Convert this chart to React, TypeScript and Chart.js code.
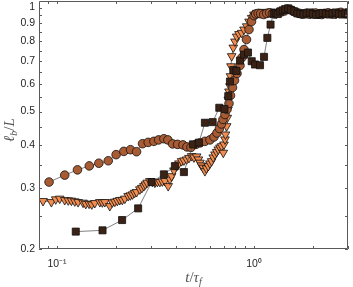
import { useEffect, useRef } from 'react';
import { Chart, registerables } from 'chart.js';

Chart.register(...registerables);

// ---- Data ----
const circleX = [
  0.0911, 0.1094, 0.127, 0.1458, 0.163, 0.182, 0.1995, 0.2183, 0.236, 0.2533,
  0.2717, 0.2902, 0.3101, 0.3278, 0.3487, 0.3654, 0.386, 0.4094, 0.4356, 0.4565,
  0.4784, 0.507, 0.5314, 0.5634, 0.5973, 0.6261, 0.6484, 0.6678, 0.6836, 0.6958,
  0.7122, 0.7291, 0.7464, 0.7596, 0.7776, 0.796, 0.8197, 0.8488, 0.8688, 0.8897,
  0.916, 0.9432, 0.9712, 1.0,
  1.02, 1.05, 1.08, 1.12, 1.16, 1.2, 1.24, 1.28, 1.33, 1.38, 1.43, 1.48, 1.53, 1.59,
  1.65, 1.71, 1.77, 1.84, 1.91, 1.98, 2.05, 2.13, 2.21, 2.29, 2.38, 2.47, 2.56, 2.66,
  2.76, 2.87, 2.97,
];
const circleY = [
  0.3125, 0.3273, 0.339, 0.348, 0.3543, 0.3602, 0.3752, 0.3834, 0.3878, 0.3826,
  0.4036, 0.4072, 0.41, 0.4139, 0.4172, 0.4139, 0.4031, 0.4018, 0.4004, 0.395,
  0.3937, 0.4018, 0.4058, 0.41, 0.4139, 0.4222, 0.4336, 0.4467, 0.4603, 0.4745,
  0.4904, 0.507, 0.5279, 0.5566, 0.5871, 0.6152, 0.6446, 0.6796, 0.7168, 0.756,
  0.8081, 0.8639, 0.911, 0.948,
  0.958, 0.962, 0.96, 0.955, 0.962, 0.966, 0.96, 0.958, 0.968, 0.972, 0.978, 0.99, 0.985, 0.975,
  0.968, 0.962, 0.958, 0.963, 0.957, 0.961, 0.965, 0.958, 0.955, 0.962, 0.966, 0.96, 0.957, 0.963,
  0.969, 0.962, 0.958,
];

const triangleX = [
  0.0849, 0.0936, 0.0985, 0.1032, 0.1094, 0.114, 0.1183, 0.123, 0.1279, 0.1356,
  0.1399, 0.1454, 0.1501, 0.1555, 0.1649, 0.1698, 0.1748, 0.1853, 0.1908, 0.1964,
  0.2023, 0.2083, 0.2145, 0.2209, 0.2296, 0.2356, 0.2418, 0.2475, 0.2534, 0.2633,
  0.2696, 0.276, 0.2809, 0.2868, 0.296, 0.3048, 0.3139, 0.3232, 0.3327, 0.3426,
  0.3528, 0.3667, 0.3741, 0.3816, 0.3921, 0.4046, 0.4156, 0.429, 0.4407, 0.4549,
  0.4673, 0.4824, 0.4955, 0.5114, 0.5222, 0.5314, 0.5408, 0.5523, 0.5634, 0.5734,
  0.5857, 0.5973, 0.6093, 0.6209, 0.6334, 0.6461, 0.6585, 0.6717, 0.6852, 0.6982,
  0.704, 0.7122, 0.7164, 0.7265, 0.7317, 0.7377, 0.7402, 0.7464, 0.7551, 0.7596,
  0.7641, 0.7703, 0.7849, 0.8006, 0.8166, 0.8389, 0.8659, 0.8897, 0.9182, 0.9432,
  0.9734, 1.0, 1.032,
  1.065, 1.1, 1.14, 1.18, 1.22, 1.26, 1.3, 1.35, 1.4, 1.45, 1.5, 1.56, 1.62, 1.68,
  1.74, 1.8, 1.87, 1.94, 2.01, 2.09, 2.17, 2.25, 2.34, 2.43, 2.52, 2.61, 2.71, 2.81, 2.92,
];
const triangleY = [
  0.2754, 0.2735, 0.2785, 0.2798, 0.2772, 0.2766, 0.2761, 0.2748, 0.2735, 0.2724,
  0.2702, 0.2706, 0.2693, 0.2717, 0.2735, 0.273, 0.2735, 0.2663, 0.273, 0.2742,
  0.2757, 0.2772, 0.2776, 0.2798, 0.2847, 0.286, 0.2879, 0.2908, 0.2924, 0.2977,
  0.3006, 0.3042, 0.3077, 0.3112, 0.3146, 0.3129, 0.3112, 0.3129, 0.3129, 0.3139,
  0.3146, 0.3042, 0.3181, 0.3251, 0.3377, 0.3476, 0.3539, 0.3593, 0.361, 0.3634,
  0.3671, 0.3715, 0.3683, 0.3708, 0.3634, 0.3556, 0.3492, 0.3439, 0.3362, 0.3423,
  0.3476, 0.3539, 0.3593, 0.3683, 0.3757, 0.382, 0.3884, 0.3935, 0.397, 0.38,
  0.4015, 0.4153, 0.4292, 0.4536, 0.4797, 0.507, 0.5418, 0.5716, 0.5921, 0.6329,
  0.6763, 0.7234, 0.766, 0.7975, 0.8244, 0.8384, 0.845, 0.8639, 0.8829, 0.911,
  0.9337, 0.9545, 0.9654,
  0.968, 0.972, 0.965, 0.97, 0.974, 0.967, 0.962, 0.97, 0.978, 0.985, 0.992, 0.98, 0.972, 0.966,
  0.962, 0.968, 0.964, 0.96, 0.966, 0.97, 0.963, 0.96, 0.966, 0.971, 0.964, 0.96, 0.967, 0.972, 0.966,
];

const squareX = [
  0.1245, 0.1702, 0.214, 0.2581, 0.302, 0.3487, 0.3967, 0.4407, 0.4898, 0.5252,
  0.5634, 0.6166, 0.6664, 0.7079, 0.7402, 0.7551, 0.7849, 0.8146, 0.8488, 0.8897,
  0.9322, 0.9734, 1.0118, 1.0727, 1.124, 1.1686, 1.2131, 1.2564,
  1.29, 1.32, 1.36, 1.4, 1.44, 1.49, 1.54, 1.6, 1.66, 1.72, 1.78, 1.85, 1.92, 1.99,
  2.07, 2.15, 2.23, 2.32, 2.41, 2.5, 2.6, 2.7, 2.8, 2.91, 3.0,
];
const squareY = [
  0.2246, 0.2265, 0.2426, 0.2622, 0.3125, 0.329, 0.3476, 0.334, 0.4018, 0.4063,
  0.4641, 0.466, 0.5128, 0.5087, 0.554, 0.6109, 0.6598, 0.6554, 0.7026, 0.7311,
  0.741, 0.6994, 0.6843, 0.681, 0.7201, 0.8172, 0.8929, 0.9607,
  0.965, 0.958, 0.975, 0.982, 0.99, 0.995, 0.985, 0.975, 0.962, 0.958, 0.955, 0.962, 0.968, 0.958,
  0.952, 0.958, 0.965, 0.96, 0.955, 0.962, 0.968, 0.96, 0.955, 0.962, 0.958,
];

const xTickValues = [0.09, 0.1, 0.2, 0.3, 0.4, 0.5, 0.6, 0.7, 0.8, 0.9, 1, 2, 3];
const xLabelValues = [0.1, 1];
const xLabelTexts = ['10\u207B\u00B9', '10\u2070'];
const yTickValues = [0.2, 0.25, 0.3, 0.35, 0.4, 0.45, 0.5, 0.55, 0.6, 0.65, 0.7, 0.75, 0.8, 0.85, 0.9, 0.95, 1];
const yLabelValues = [0.2, 0.3, 0.4, 0.5, 0.6, 0.7, 0.8, 0.9, 1];
const yLabelTexts = ['0.2', '0.3', '0.4', '0.5', '0.6', '0.7', '0.8', '0.9', '1'];

const toPoints = (xs: number[], ys: number[]) => xs.map((x, i) => ({ x, y: ys[i] }));

const boxPlugin = {
  id: 'matlabBox',
  afterDraw(chart: any) {
    const { ctx, chartArea: a, scales } = chart;
    const xs = scales.x;
    const ys = scales.y;
    ctx.save();
    ctx.strokeStyle = '#5a5a5a';
    ctx.lineWidth = 1;
    ctx.beginPath();
    ctx.rect(Math.round(a.left) + 0.5, Math.round(a.top) + 0.5, Math.round(a.right - a.left) - 1, Math.round(a.bottom - a.top) - 1);
    ctx.stroke();
    const L = 3;
    ctx.beginPath();
    xs.ticks.forEach((t: any) => {
      const px = Math.round(xs.getPixelForValue(t.value)) + 0.5;
      ctx.moveTo(px, a.bottom);
      ctx.lineTo(px, a.bottom - L);
      ctx.moveTo(px, a.top);
      ctx.lineTo(px, a.top + L);
    });
    ys.ticks.forEach((t: any) => {
      const py = Math.round(ys.getPixelForValue(t.value)) + 0.5;
      ctx.moveTo(a.left, py);
      ctx.lineTo(a.left + L, py);
      ctx.moveTo(a.right, py);
      ctx.lineTo(a.right - L, py);
    });
    ctx.stroke();

    // axis titles (LaTeX-like, with subscripts)
    ctx.fillStyle = '#555555';
    const big = 'italic 15px "Liberation Serif", serif';
    const small = 'italic 10px "Liberation Serif", serif';
    const upright = '15px "Liberation Serif", serif';
    const drawRuns = (runs: { t: string; f: string; dy: number }[], cx: number, cy: number, rot: number) => {
      ctx.save();
      ctx.translate(cx, cy);
      ctx.rotate(rot);
      let w = 0;
      runs.forEach((r) => { ctx.font = r.f; w += ctx.measureText(r.t).width; });
      let x = -w / 2;
      ctx.textBaseline = 'middle';
      ctx.textAlign = 'left';
      runs.forEach((r) => { ctx.font = r.f; ctx.fillText(r.t, x, r.dy); x += ctx.measureText(r.t).width; });
      ctx.restore();
    };
    drawRuns(
      [
        { t: 't', f: big, dy: 0 },
        { t: '/', f: upright, dy: 0 },
        { t: '\u03C4', f: big, dy: 0 },
        { t: 'f', f: small, dy: 4 },
      ],
      (a.left + a.right) / 2,
      278,
      0
    );
    drawRuns(
      [
        { t: '\u2113', f: big, dy: 0 },
        { t: 'b', f: small, dy: 4 },
        { t: '/', f: upright, dy: 0 },
        { t: 'L', f: big, dy: 0 },
      ],
      10,
      (a.top + a.bottom) / 2 + 5,
      -Math.PI / 2
    );
    ctx.restore();
  },
};

export default function App() {
  const ref = useRef<HTMLCanvasElement | null>(null);
  useEffect(() => {
    document.body.style.margin = '0';
    const canvas = ref.current;
    if (!canvas) return;
    const lineCol = '#4a4a4a';
    const chart = new Chart(canvas, {
      type: 'line',
      data: {
        datasets: [
          {
            label: 'squares',
            data: toPoints(squareX, squareY),
            pointStyle: 'rect',
            pointRadius: 5,
            backgroundColor: '#3b2215',
            pointBackgroundColor: '#3b2215',
            pointBorderColor: '#111',
            pointBorderWidth: 0.8,
            borderColor: lineCol,
            borderWidth: 0.7,
            showLine: true,
          },
          {
            label: 'circles',
            data: toPoints(circleX, circleY),
            pointStyle: 'circle',
            pointRadius: 4.3,
            backgroundColor: '#a95b33',
            pointBackgroundColor: '#a95b33',
            pointBorderColor: '#111',
            pointBorderWidth: 0.8,
            borderColor: lineCol,
            borderWidth: 0.7,
            showLine: true,
          },
          {
            label: 'triangles',
            data: toPoints(triangleX, triangleY),
            pointStyle: 'triangle',
            pointRotation: 180,
            pointRadius: 5,
            backgroundColor: '#f28c4f',
            pointBackgroundColor: '#f28c4f',
            pointBorderColor: '#111',
            pointBorderWidth: 0.8,
            borderColor: lineCol,
            borderWidth: 0.7,
            showLine: true,
          },
        ],
      },
      options: {
        animation: false,
        responsive: false,
        events: [],
        layout: { autoPadding: false, padding: { left: 0, right: 5, top: 1, bottom: 0 } },
        plugins: { legend: { display: false }, tooltip: { enabled: false } },
        scales: {
          x: {
            type: 'logarithmic',
            min: 0.081,
            max: 3.0,
            grid: { display: false, drawTicks: false },
            border: { display: false },
            afterBuildTicks: (s: any) => {
              s.ticks = xTickValues.map((v) => ({ value: v }));
            },
            afterFit: (s: any) => {
              s.height = 38;
              s.paddingLeft = 0;
              s.paddingRight = 0;
            },
            ticks: {
              autoSkip: false,
              maxRotation: 0,
              padding: 9,
              color: '#262626',
              font: { family: '"Liberation Sans", Arial, sans-serif', size: 10.5 },
              callback: (v: any) => {
                const i = xLabelValues.indexOf(Number(v));
                return i >= 0 ? xLabelTexts[i] : '';
              },
            },
          },
          y: {
            type: 'logarithmic',
            min: 0.2,
            max: 1.045,
            grid: { display: false, drawTicks: false },
            border: { display: false },
            afterBuildTicks: (s: any) => {
              s.ticks = yTickValues.map((v) => ({ value: v }));
            },
            afterFit: (s: any) => {
              s.width = 39;
              s.paddingTop = 0;
              s.paddingBottom = 0;
            },
            ticks: {
              autoSkip: false,
              padding: 4,
              color: '#262626',
              font: { family: '"Liberation Sans", Arial, sans-serif', size: 10.5 },
              callback: (v: any) => {
                const i = yLabelValues.indexOf(Number(v));
                return i >= 0 ? yLabelTexts[i] : '';
              },
            },
          },
        },
      } as any,
      plugins: [boxPlugin],
    });
    return () => chart.destroy();
  }, []);
  return <canvas ref={ref} width={353} height={287} style={{ display: 'block' }} />;
}
